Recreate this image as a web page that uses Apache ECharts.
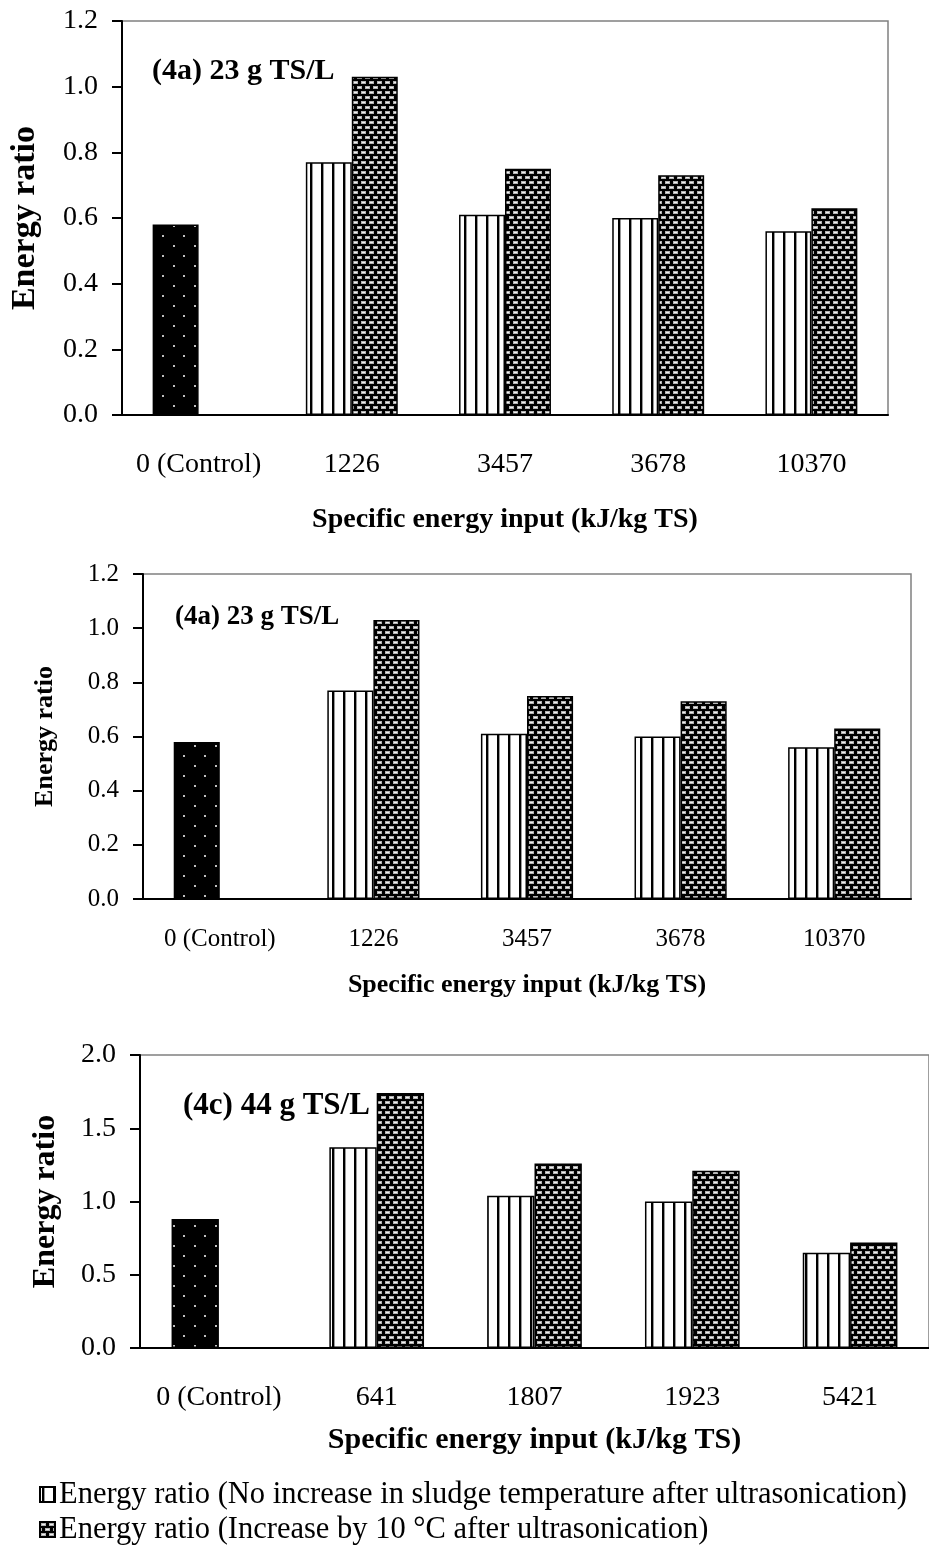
<!DOCTYPE html>
<html>
<head>
<meta charset="utf-8">
<script src="https://cdn.jsdelivr.net/npm/echarts@6/dist/echarts.min.js"></script>
<style>
  html, body { margin: 0; padding: 0; background: #fff; }
  #chart { width: 929px; height: 1554px; }
</style>
</head>
<body>
<div id="chart"></div>
<script>
// data
var catsA = ["0 (Control)", "1226", "3457", "3678", "10370"];
var catsC = ["0 (Control)", "641", "1807", "1923", "5421"];
var noIncreaseA = [0.58, 0.77, 0.61, 0.60, 0.56];
var increaseA = [null, 1.03, 0.75, 0.73, 0.63];
var noIncreaseC = [0.88, 1.37, 1.04, 1.00, 0.65];
var increaseC = [null, 1.74, 1.26, 1.21, 0.72];
var panelTitles = ["(4a) 23 g TS/L", "(4a) 23 g TS/L", "(4c) 44 g TS/L"];
var nameNo = "Energy ratio (No increase in sludge temperature after ultrasonication)";
var nameInc = "Energy ratio (Increase by 10 \u00b0C after ultrasonication)";

var FONT = "'Liberation Serif', 'Times New Roman', serif";

// fill patterns
function stripePattern() {
  var c = document.createElement("canvas");
  c.width = 11; c.height = 4;
  var g = c.getContext("2d");
  g.fillStyle = "#fff"; g.fillRect(0, 0, 11, 4);
  g.fillStyle = "#000"; g.fillRect(2, 0, 2, 4);
  g.fillStyle = "#999"; g.fillRect(4, 0, 1, 4);
  return { image: c, repeat: "repeat" };
}
function checkPattern() {
  var c = document.createElement("canvas");
  c.width = 8; c.height = 10;
  var g = c.getContext("2d");
  g.fillStyle = "#000"; g.fillRect(0, 0, 8, 10);
  g.fillStyle = "#b4b4b4";
  g.fillRect(1, 1, 5, 3);
  g.fillRect(5, 6, 3, 3);
  g.fillRect(0, 6, 2, 3);
  g.fillStyle = "#f0f0f0";
  g.fillRect(2, 2, 3, 1);
  g.fillRect(6, 7, 2, 1);
  g.fillRect(0, 7, 1, 1);
  return { image: c, repeat: "repeat" };
}
function dotPattern() {
  var c = document.createElement("canvas");
  c.width = 21; c.height = 20;
  var g = c.getContext("2d");
  g.fillStyle = "#000"; g.fillRect(0, 0, 21, 20);
  g.fillStyle = "#c0c0c0";
  g.fillRect(5, 5, 2, 2);
  g.fillRect(15, 15, 2, 2);
  return { image: c, repeat: "repeat" };
}
var stripe = stripePattern();
var check = checkPattern();
var dots = dotPattern();

function withControl(arr) {
  return arr.map(function (v, i) {
    if (i === 0) return { value: v, itemStyle: { color: dots } };
    return v;
  });
}

var grids = [
  { left: 119, top: 21, width: 769, height: 394 },
  { left: 143, top: 574, width: 768, height: 325 },
  { left: 140, top: 1055, width: 790, height: 293 }
];
var fs = [
  { tick: 28, name: 28, yname: 34, title: 30, lm: 36, ng: 91, yg: 80 },
  { tick: 25, name: 26, yname: 26, title: 27, lm: 28, ng: 73, yg: 85 },
  { tick: 28, name: 30, yname: 32, title: 31, lm: 36, ng: 77, yg: 78 }
];
var titlePos = [[147, 51], [170, 599], [178, 1085]];

var xAxes = [], yAxes = [], series = [], titles = [];
[catsA, catsA, catsC].forEach(function (cats, k) {
  var f = fs[k];
  xAxes.push({
    type: "category", gridIndex: k, data: cats,
    name: "Specific energy input (kJ/kg TS)", nameLocation: "middle", nameGap: f.ng,
    nameTextStyle: { fontFamily: FONT, fontWeight: "bold", fontSize: f.name, color: "#000" },
    axisLine: { lineStyle: { color: "#000", width: 2 } },
    axisTick: { length: 11, interval: 0, lineStyle: { color: "#000", width: 2 } },
    axisLabel: { fontFamily: FONT, fontSize: f.tick, color: "#000", margin: f.lm, interval: 0 },
    splitLine: { show: false }
  });
  yAxes.push({
    type: "value", gridIndex: k, min: 0, max: k === 2 ? 2 : 1.2, interval: k === 2 ? 0.5 : 0.2,
    name: "Energy ratio", nameLocation: "middle", nameGap: f.yg,
    nameTextStyle: { fontFamily: FONT, fontWeight: "bold", fontSize: f.yname, color: "#000" },
    axisLine: { show: true, lineStyle: { color: "#000", width: 2 } },
    axisTick: { show: true, length: 10, lineStyle: { color: "#000", width: 2 } },
    axisLabel: { fontFamily: FONT, fontSize: f.tick, color: "#000", margin: 24,
      formatter: function (v) { return v.toFixed(1); } },
    splitLine: { show: false }
  });
  titles.push({
    text: panelTitles[k], left: titlePos[k][0], top: titlePos[k][1],
    textStyle: { fontFamily: FONT, fontWeight: "bold", fontSize: f.title, color: "#000" }
  });
  var no = k === 2 ? noIncreaseC : noIncreaseA;
  var inc = k === 2 ? increaseC : increaseA;
  series.push({
    name: nameNo, type: "bar", xAxisIndex: k, yAxisIndex: k,
    barWidth: "30%", barGap: "0%",
    itemStyle: { color: stripe, borderColor: "#000", borderWidth: 1.5 },
    data: withControl(no)
  });
  series.push({
    name: nameInc, type: "bar", xAxisIndex: k, yAxisIndex: k,
    barWidth: "30%", barGap: "0%",
    itemStyle: { color: check, borderColor: "#000", borderWidth: 1.5 },
    data: inc
  });
});

function legendRow(name, top) {
  return {
    data: [name], left: 34, top: top,
    itemWidth: 15, itemHeight: 15, icon: "rect", selectedMode: false,
    textStyle: { fontFamily: FONT, fontSize: 30.5, color: "#000", padding: [0, 0, 0, -1] }
  };
}

var myChart = echarts.init(document.getElementById("chart"), null, { renderer: "canvas" });
myChart.setOption({
  animation: false,
  backgroundColor: "#fff",
  title: titles,
  grid: grids.map(function (g) {
    return Object.assign({ show: true, borderColor: "#808080", borderWidth: 1.5, backgroundColor: "transparent" }, g);
  }),
  legend: [legendRow(nameNo, 1474), legendRow(nameInc, 1509)],
  xAxis: xAxes,
  yAxis: yAxes,
  series: series
});
</script>
</body>
</html>
